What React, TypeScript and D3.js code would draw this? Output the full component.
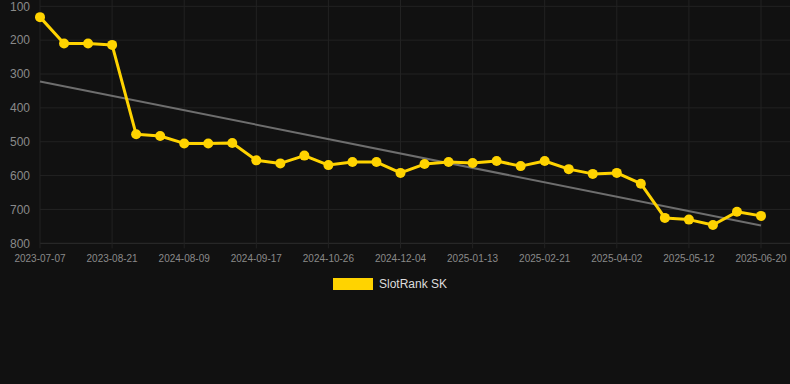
import { useEffect, useRef } from 'react';
import * as d3 from 'd3';

const WIDTH = 790;
const HEIGHT = 384;

// one label every third point
const tickLabels = [
  '2023-07-07', '2023-08-21', '2024-08-09', '2024-09-17', '2024-10-26', '2024-12-04',
  '2025-01-13', '2025-02-21', '2025-04-02', '2025-05-12', '2025-06-20',
];

const rankValues = [
  132, 210, 210, 214, 478, 483, 505, 505, 504, 555, 564, 541, 569, 560, 560, 592,
  566, 560, 563, 557, 572, 557, 581, 595, 592, 624, 725, 730, 746, 707, 719,
];

const yTicks = [100, 200, 300, 400, 500, 600, 700, 800];

const seriesName = 'SlotRank SK';

export default function App() {
  const svgRef = useRef<SVGSVGElement>(null);

  useEffect(() => {
    if (!svgRef.current) return;
    const svg = d3.select(svgRef.current);
    svg.selectAll('*').remove();

    const left = 40;
    const right = 790;
    const lastX = 761;
    const top = 6.3;
    const bottom = 243.3;

    svg.append('rect').attr('width', WIDTH).attr('height', HEIGHT).attr('fill', '#111111');

    const x = d3.scaleLinear().domain([0, rankValues.length - 1]).range([left, lastX]);
    const y = d3.scaleLinear().domain([100, 800]).range([top, bottom]);

    // horizontal grid + y labels
    yTicks.forEach(t => {
      svg.append('line')
        .attr('x1', left).attr('x2', right)
        .attr('y1', y(t)).attr('y2', y(t))
        .attr('stroke', t === 800 ? '#2e2e2e' : '#222222')
        .attr('stroke-width', 1);
      svg.append('text')
        .attr('x', 30).attr('y', y(t))
        .attr('dy', '0.35em')
        .attr('text-anchor', 'end')
        .attr('font-family', 'Arial, "Liberation Sans", sans-serif')
        .attr('font-size', 12)
        .attr('fill', '#8a8a8a')
        .text(t);
    });

    // vertical grid + x labels
    tickLabels.forEach((label, i) => {
      const xi = x(i * 3);
      svg.append('line')
        .attr('x1', xi).attr('x2', xi)
        .attr('y1', 0).attr('y2', bottom + 5)
        .attr('stroke', '#222222')
        .attr('stroke-width', 1);
      svg.append('text')
        .attr('x', xi).attr('y', 262)
        .attr('text-anchor', 'middle')
        .attr('font-family', 'Arial, "Liberation Sans", sans-serif')
        .attr('font-size', 10)
        .attr('fill', '#8a8a8a')
        .text(label);
    });

    // trend line (least squares)
    const n = rankValues.length;
    const mx = d3.mean(d3.range(n)) as number;
    const my = d3.mean(rankValues) as number;
    const slope = d3.sum(rankValues, (v, i) => (i - mx) * (v - my)) /
      d3.sum(d3.range(n), i => (i - mx) * (i - mx));
    const intercept = my - slope * mx;
    svg.append('line')
      .attr('x1', x(0)).attr('y1', y(intercept))
      .attr('x2', x(n - 1)).attr('y2', y(intercept + slope * (n - 1)))
      .attr('stroke', '#6e6e6e')
      .attr('stroke-width', 2);

    // series line
    const line = d3.line<number>().x((_, i) => x(i)).y(v => y(v));
    svg.append('path')
      .datum(rankValues)
      .attr('d', line)
      .attr('fill', 'none')
      .attr('stroke', '#FFD300')
      .attr('stroke-width', 3)
      .attr('stroke-linejoin', 'round');

    svg.selectAll('circle.pt')
      .data(rankValues)
      .enter()
      .append('circle')
      .attr('class', 'pt')
      .attr('cx', (_, i) => x(i))
      .attr('cy', v => y(v))
      .attr('r', 5)
      .attr('fill', '#FFD300');

    // legend
    svg.append('rect')
      .attr('x', 333).attr('y', 278)
      .attr('width', 40).attr('height', 12)
      .attr('fill', '#FFD300');
    svg.append('text')
      .attr('x', 379).attr('y', 284)
      .attr('dy', '0.35em')
      .attr('font-family', 'Arial, "Liberation Sans", sans-serif')
      .attr('font-size', 12)
      .attr('fill', '#dddddd')
      .text(seriesName);
  }, []);

  return (
    <div style={{ position: 'absolute', left: 0, top: 0 }}>
      <svg ref={svgRef} width={WIDTH} height={HEIGHT} style={{ display: 'block' }} />
    </div>
  );
}
